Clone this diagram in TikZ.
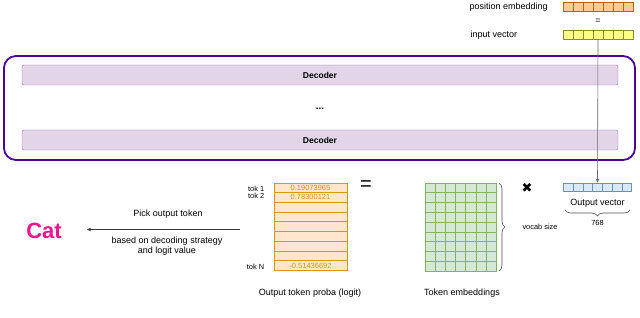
\documentclass[tikz,border=0pt]{standalone}
\usepackage{fontspec}
\setmainfont{Liberation Sans}
\newfontfamily\symfont{DejaVu Sans}
\usetikzlibrary{positioning,arrows.meta,calc,decorations.pathreplacing}
\definecolor{stackline}{HTML}{4C0099}
\definecolor{decfill}{HTML}{E1D5E7}
\definecolor{decline}{HTML}{9673A6}
\definecolor{posfill}{HTML}{F9CB9C}
\definecolor{posline}{HTML}{B46504}
\definecolor{inpfill}{HTML}{FFFF88}
\definecolor{inpline}{HTML}{8C8C2A}
\definecolor{outfill}{HTML}{DAE8FC}
\definecolor{outline}{HTML}{6C8EBF}
\definecolor{embfill}{HTML}{D5E8D4}
\definecolor{embline}{HTML}{82B366}
\definecolor{probfill}{HTML}{FFE6CC}
\definecolor{probline}{HTML}{D79B00}
\definecolor{catpink}{HTML}{F0148C}

\begin{document}
\begin{tikzpicture}[
  x=1pt, y=-1pt,
  font=\fontsize{9}{10.5}\selectfont,
  vec/.style={draw, minimum width=70pt, minimum height=9pt, inner sep=0pt, line width=0.6pt},
  decoder/.style={draw=decline, fill=decfill, rounded corners=2pt, minimum width=596pt,
                  minimum height=20pt, font=\fontsize{8.5}{10}\selectfont\bfseries},
  stack/.style={draw=stackline, line width=1.8pt, rounded corners=12pt,
                minimum width=631pt, minimum height=104pt},
  grid/.style={draw, line width=0.6pt, inner sep=0pt},
  small/.style={font=\fontsize{7.4}{9}\selectfont},
  val/.style={font=\fontsize{7.5}{9}\selectfont, text=probline},
  arr/.style={-{Stealth[length=4pt,width=3.5pt]}, draw=black!60, line width=0.6pt},
  brace/.style={decorate, decoration={brace, amplitude=6pt}, draw=black!70, line width=0.6pt}
]
\useasboundingbox (0,0) rectangle (640,318);

% input side
\node[vec, draw=posline, fill=posfill] (pe) at (598,7) {};
\node (eq1) at (598,21) {=};
\node[vec, draw=inpline, fill=inpfill] (inv) at (598,35) {};
\foreach \v/\c in {pe/posline,inv/inpline}
  \foreach \i in {1,...,6}
    \draw[draw=\c, line width=0.5pt] ($(\v.north west)!\i/7!(\v.north east)$) -- ($(\v.south west)!\i/7!(\v.south east)$);
\node[anchor=west] (pelabel) at (466,7) {position embedding};
\node[anchor=west] (invlabel) at (467,35) {input vector};

% decoder stack
\node[stack] (stackbox) at (319.5,108) {};
\node[decoder] (dec1) at (320,75) {Decoder};
\node[font=\bfseries] (dots) at (320,109) {...};
\node[decoder] (dec2) at (320,140) {Decoder};

% output vector
\node[vec, draw=outline, fill=outfill, minimum width=68pt, minimum height=8pt] (outv) at (597.5,187) {};
\foreach \i in {1,...,6}
  \draw[draw=outline, line width=0.5pt] ($(outv.north west)!\i/7!(outv.north east)$) -- ($(outv.south west)!\i/7!(outv.south east)$);
\draw[arr] (inv.south) -- (outv.north);
\node (outlabel) at (597.5,203) {Output vector};
\coordinate (obr) at (630,210);
\coordinate (obl) at (565,210);
\draw[brace] (obr) -- (obl);
\node[small] (dim) at (597.5,223) {768};

\node[font=\symfont\fontsize{13}{13}\selectfont] (times) at (527,188) {✖};

% token embeddings
\node[grid, draw=embline, fill=embfill, minimum width=71pt, minimum height=88pt] (emb) at (460.5,227) {};
\foreach \i in {1,...,6}
  \draw[draw=embline, line width=0.6pt] ($(emb.north west)!\i/7!(emb.north east)$) -- ($(emb.south west)!\i/7!(emb.south east)$);
\foreach \j in {1,...,8}
  \draw[draw=embline, line width=0.6pt] ($(emb.north west)!\j/9!(emb.south west)$) -- ($(emb.north east)!\j/9!(emb.south east)$);
\coordinate (vbt) at (499,183);
\coordinate (vbb) at (499,271);
\draw[brace] (vbt) -- (vbb);
\node[small] (vocab) at (540,227) {vocab size};
\node (emblabel) at (462,293) {Token embeddings};

\node[font=\fontsize{20}{20}\selectfont] (eq2) at (366,186) {=};

% output token probabilities
\node[grid, draw=probline, fill=probfill, minimum width=73pt, minimum height=87pt] (proba) at (310.5,226.5) {};
\foreach \j in {1,...,8}
  \draw[draw=probline, line width=0.6pt] ($(proba.north west)!\j/9!(proba.south west)$) -- ($(proba.north east)!\j/9!(proba.south east)$);
\node[val] (v1) at ($(proba.north)!0.5/9!(proba.south)$) {0.19073965};
\node[val] (v2) at ($(proba.north)!1.5/9!(proba.south)$) {0.78300121};
\node[val] (vn) at ($(proba.north)!8.5/9!(proba.south)$) {-0.51436692};
\node[small, anchor=east] (t1) at ($(proba.north west)!0.6/9!(proba.south west)+(-6,0)$) {tok 1};
\node[small, anchor=east] (t2) at ($(proba.north west)!1.4/9!(proba.south west)+(-6,0)$) {tok 2};
\node[small, anchor=east] (tn) at ($(proba.north west)!8.6/9!(proba.south west)+(-6,0)$) {tok N};
\node (probalabel) at (310,293) {Output token proba (logit)};

% picking the token
\node[text=catpink, font=\fontsize{22}{22}\selectfont\bfseries] (cat) at (44,231) {Cat};
\coordinate (pickstart) at (240,229.5);
\coordinate (pickend) at (87,229.5);
\draw[arr, draw=black!80] (pickstart) -- (pickend);
\node (pick) at (168,214) {Pick output token};
\node[align=center] (strategy) at (167,246) {based on decoding strategy\\and logit value};
\end{tikzpicture}
\end{document}
